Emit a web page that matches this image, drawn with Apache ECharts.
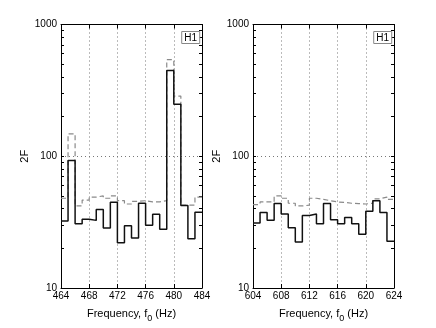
<!DOCTYPE html>
<html>
<head>
<meta charset="utf-8">
<script src="https://cdn.jsdelivr.net/npm/echarts@6/dist/echarts.min.js"></script>
<style>
  html, body { margin: 0; padding: 0; background: #fff; }
  #chart { width: 436px; height: 328px; }
</style>
</head>
<body>
<div id="chart"></div>
<script>
// bin start frequencies (Hz), 1 Hz bins
const leftBins = [464, 465, 466, 467, 468, 469, 470, 471, 472, 473, 474, 475, 476, 477, 478, 479, 480, 481, 482, 483];
const rightBins = [604, 605, 606, 607, 608, 609, 610, 611, 612, 613, 614, 615, 616, 617, 618, 619, 620, 621, 622, 623];
// 2F values, solid (black) and dashed (gray)
const leftSolid = [32.2, 92.9, 30.7, 33.3, 32.6, 39.4, 28.5, 44.7, 22.1, 29.7, 24.0, 43.9, 29.9, 36.3, 27.9, 447, 248, 42.2, 23.7, 37.6];
const leftDashed = [48, 148, 42, 46.5, 49, 50, 48, 50, 46, 43.4, 45.5, 46, 45, 45, 46, 541, 286, 42.6, 42.6, 49];
const rightSolid = [31.1, 37.4, 32.7, 43.7, 36.5, 28.6, 22.3, 35.5, 36.5, 30.7, 43.7, 32.9, 30.7, 34.3, 30.7, 25.6, 38.3, 46, 37.4, 22.6];
const rightDashed = [43, 45, 45, 50, 48, 44, 42, 42.5, 48, 47, 46, 45, 44.6, 44, 43.7, 43.4, 44, 47.5, 49, 47];
const yTicks = [10, 20, 30, 40, 50, 60, 70, 80, 90, 100, 200, 300, 400, 500, 600, 700, 800, 900, 1000];

const font = 'Liberation Sans, Arial, sans-serif';

// stairs: hold each value over its 1 Hz bin
function stairs(bins, vals) {
  const pts = bins.map((b, i) => [b, vals[i]]);
  pts.push([bins[bins.length - 1] + 1, vals[vals.length - 1]]);
  return pts;
}

function xAxes(gi, lo, hi) {
  return [
    {
      gridIndex: gi, type: 'value', min: lo, max: hi, interval: 4, position: 'bottom',
      name: '{a|Frequency, f}{s|0}{a| (Hz)}', nameLocation: 'middle', nameGap: 16,
      nameTextStyle: {
        rich: {
          a: { fontFamily: font, fontSize: 11, color: '#000' },
          s: { fontFamily: font, fontSize: 9, color: '#000', padding: [10, 0, 0, 0] }
        }
      },
      axisLine: { lineStyle: { color: '#000', width: 1 } },
      axisTick: { inside: true, length: 4, lineStyle: { color: '#000' } },
      axisLabel: { fontFamily: font, fontSize: 10, color: '#000', margin: 3, showMinLabel: true, showMaxLabel: true },
      splitLine: { show: true, lineStyle: { color: '#777', type: [1, 3], width: 1 } }
    },
    {
      gridIndex: gi, type: 'value', min: lo, max: hi, interval: 4, position: 'top',
      axisLine: { lineStyle: { color: '#000', width: 1 } },
      axisTick: { inside: true, length: 4, lineStyle: { color: '#000' } },
      axisLabel: { show: false },
      splitLine: { show: false }
    }
  ];
}

function yAxes(gi) {
  return [
    {
      gridIndex: gi, type: 'log', logBase: 10, min: 10, max: 1000, position: 'left',
      name: '2F', nameLocation: 'middle', nameRotate: 90, nameGap: 30,
      nameTextStyle: { fontFamily: font, fontSize: 11, color: '#000' },
      axisLine: { show: true, lineStyle: { color: '#000', width: 1 } },
      axisTick: { inside: true, length: 3, customValues: yTicks, lineStyle: { color: '#000' } },
      axisLabel: { fontFamily: font, fontSize: 10, color: '#000', margin: 4, formatter: v => String(v) },
      splitLine: { show: false }
    },
    {
      gridIndex: gi, type: 'log', logBase: 10, min: 10, max: 1000, position: 'right',
      axisLine: { show: true, lineStyle: { color: '#000', width: 1 } },
      axisTick: { inside: true, length: 3, customValues: yTicks, lineStyle: { color: '#000' } },
      axisLabel: { show: false },
      splitLine: { show: false }
    },
    {
      // only for the dotted decade grid line
      gridIndex: gi, type: 'log', logBase: 10, min: 10, max: 1000, position: 'left', offset: 0,
      axisLine: { show: false },
      axisTick: { show: false },
      axisLabel: { show: false },
      splitLine: { show: true, lineStyle: { color: '#777', type: [1, 3], width: 1 } }
    }
  ];
}

function lines(xi, yi, bins, solid, dashed) {
  return [
    {
      type: 'line', step: 'end', xAxisIndex: xi, yAxisIndex: yi, data: stairs(bins, dashed),
      symbol: 'none', silent: true,
      lineStyle: { color: '#8a8a8a', width: 1.2, type: [5, 3] }
    },
    {
      type: 'line', step: 'end', xAxisIndex: xi, yAxisIndex: yi, data: stairs(bins, solid),
      symbol: 'none', silent: true,
      lineStyle: { color: '#111', width: 1.5 }
    }
  ];
}

const boxTitle = (right) => ({
  text: 'H1', right: right, top: 31, padding: [2, 3, 1, 3],
  borderColor: '#888', borderWidth: 1, backgroundColor: '#fff',
  textStyle: { fontFamily: font, fontSize: 10, fontWeight: 'normal', color: '#000' }
});

const chart = echarts.init(document.getElementById('chart'), null, { renderer: 'canvas' });
chart.setOption({
  animation: false,
  backgroundColor: '#fff',
  title: [boxTitle(436 - 200), boxTitle(436 - 392)],
  grid: [
    { left: 61, top: 24.5, width: 141, height: 266 },
    { left: 253, top: 24.5, width: 141, height: 266 }
  ],
  xAxis: [...xAxes(0, 464, 484), ...xAxes(1, 604, 624)],
  yAxis: [...yAxes(0), ...yAxes(1)],
  series: [
    ...lines(0, 0, leftBins, leftSolid, leftDashed),
    ...lines(2, 3, rightBins, rightSolid, rightDashed)
  ]
});
</script>
</body>
</html>
